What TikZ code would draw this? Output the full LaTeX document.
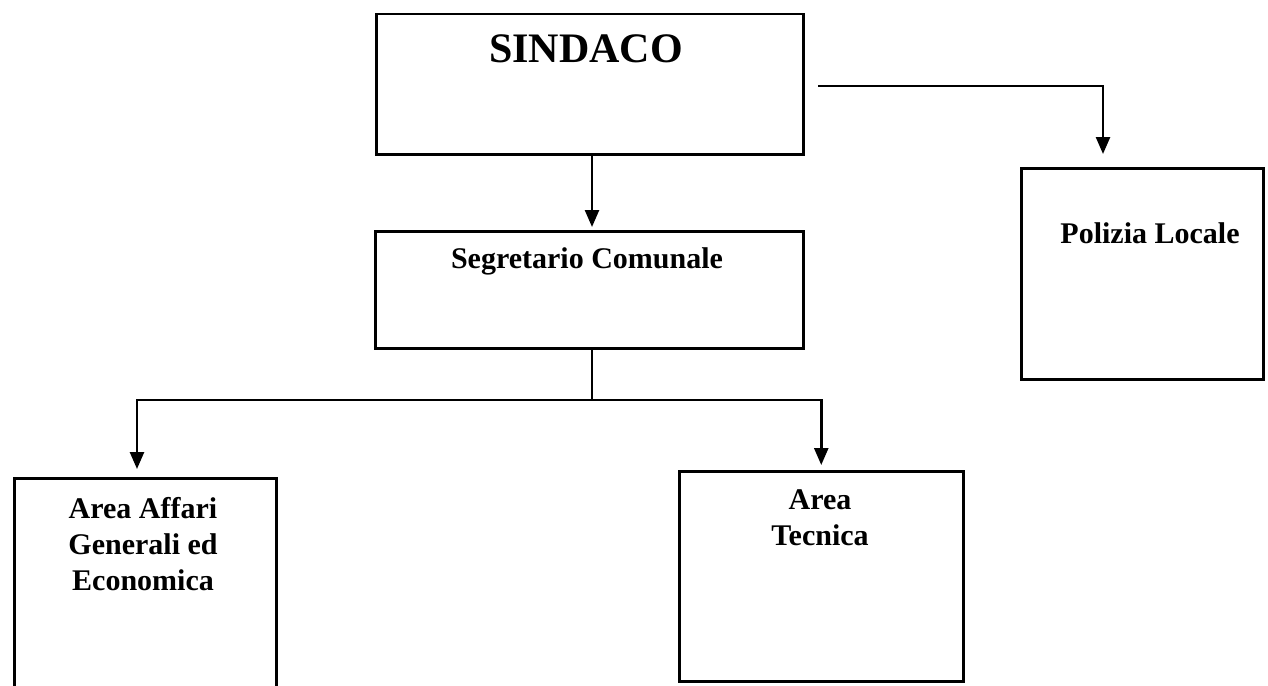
\documentclass[tikz,border=0pt]{standalone}
\usepackage{fontspec}
\setmainfont{Liberation Serif}
\usetikzlibrary{arrows.meta}
\begin{document}
\begin{tikzpicture}[x=1pt,y=-1pt,
  box/.style={draw=black,line width=2.5pt,rectangle,inner sep=0pt,anchor=north west},
  lbl/.style={font=\fontsize{30}{36}\selectfont\bfseries,align=center,inner sep=0pt,anchor=base},
  big/.style={font=\fontsize{42}{48}\selectfont\bfseries,inner sep=0pt,anchor=base},
  conn/.style={line width=2.5pt},
  arr/.style={line width=2.5pt,-{Triangle[length=17pt,width=14pt]}}]
\clip (0,0) rectangle (1268,685);
\fill[white] (0,0) rectangle (1268,685);
% boxes
\node[box,minimum width=427pt,minimum height=140pt] (sindaco) at (375,13) {};
\node[box,minimum width=428pt,minimum height=117pt] (segr) at (374,230) {};
\node[box,minimum width=242pt,minimum height=211pt] (polizia) at (1020,167) {};
\node[box,minimum width=262pt,minimum height=230pt] (affari) at (13,477) {};
\node[box,minimum width=284pt,minimum height=210pt] (tecnica) at (678,470) {};
% labels
\node[big] (sindacoT) at (586,63) {SINDACO};
\node[lbl] (segrT) at (587,268) {Segretario Comunale};
\node[lbl] (poliziaT) at (1150,243) {Polizia Locale};
\node[lbl,anchor=north] (affariT) at (143,493) {\strut Area Affari\\\strut Generali ed\\\strut Economica};
\node[lbl,anchor=north] (tecnicaT) at (820,484) {\strut Area\\\strut Tecnica};
% connectors
\coordinate (pstart) at (818,86);
\coordinate (pturn) at (1103,86);
\coordinate (bus) at (592,400);
\draw[arr,shorten >=3pt] (sindaco.south -| bus) -- (segr.north -| bus);
\draw[arr,shorten >=13pt] (pstart) -- (pturn) -- (pturn |- polizia.north);
\draw[conn] (segr.south -| bus) -- (bus);
\draw[arr,shorten >=8pt] (bus) -| (137,477);
\draw[arr,shorten >=5pt] (bus) -| (tecnica.north);
\end{tikzpicture}
\end{document}
